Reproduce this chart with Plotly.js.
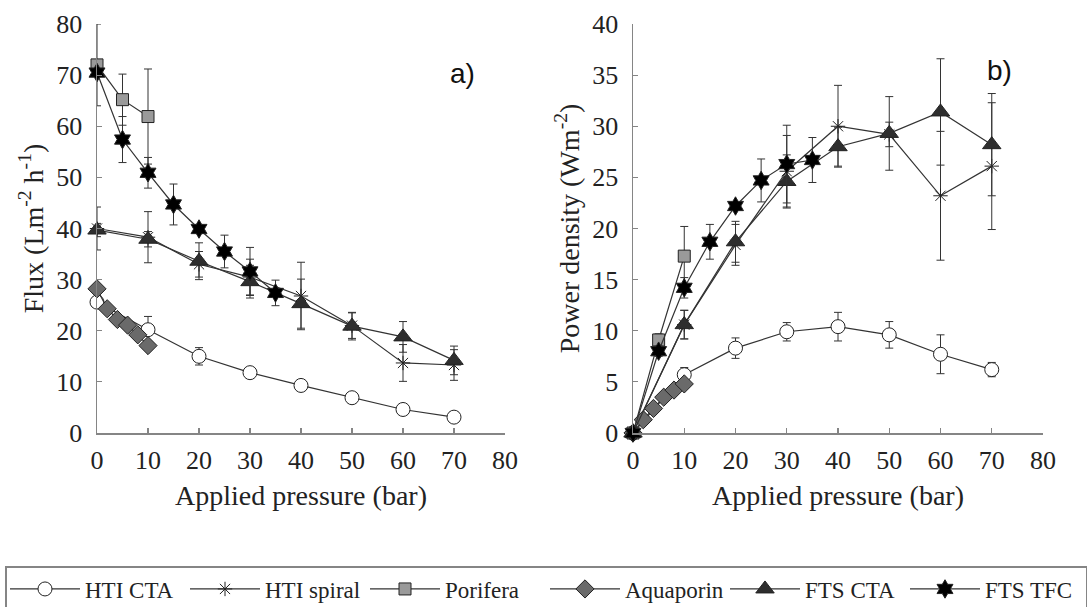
<!DOCTYPE html>
<html>
<head>
<meta charset="utf-8">
<script src="https://cdn.plot.ly/plotly-3.0.1.min.js"></script>
<style>html,body{margin:0;padding:0;background:#fff;}#chart{width:1089px;height:607px;}</style>
</head>
<body>
<div id="chart"></div>
<script>
// ---- Data ----
const seriesNames = ["HTI CTA", "HTI spiral", "Porifera", "Aquaporin", "FTS CTA", "FTS TFC"];

// Pressure values (bar)
const pressure8 = [0, 10, 20, 30, 40, 50, 60, 70];
const pressurePorifera = [0, 5, 10];
const pressureAquaporin = [0, 2, 4, 6, 8, 10];
const pressureTFC = [0, 5, 10, 15, 20, 25, 30, 35];

// a) Flux (L m-2 h-1)
const fluxHtiCta = [25.6, 20.2, 15.0, 11.8, 9.3, 6.9, 4.6, 3.1];
const fluxHtiCtaErr = [0.8, 2.6, 1.7, 0.8, 1.0, 1.0, 0.9, 0.6];
const fluxHtiSpiral = [40.0, 38.3, 33.0, 30.5, 26.8, 21.0, 13.7, 13.3];
const fluxHtiSpiralErr = [4.2, 5.0, 2.5, 3.5, 6.6, 2.5, 3.6, 3.0];
const fluxPorifera = [72.0, 65.2, 61.9];
const fluxPoriferaErr = [8.0, 5.0, 9.3];
const fluxAquaporin = [28.2, 24.3, 22.2, 21.1, 19.2, 17.1];
const fluxFtsCta = [39.7, 37.9, 33.6, 29.6, 25.3, 20.9, 18.8, 14.2];
const fluxFtsCtaErr = [1.3, 1.5, 3.6, 3.2, 4.8, 2.7, 3.0, 2.8];
const fluxFtsTfc = [70.5, 57.4, 50.9, 44.7, 39.9, 35.5, 31.6, 27.4];
const fluxFtsTfcErr = [0.8, 4.5, 3.0, 4.0, 0.8, 3.2, 4.7, 2.5];

// b) Power density (W m-2)
const powHtiCta = [0, 5.7, 8.3, 9.9, 10.4, 9.6, 7.7, 6.2];
const powHtiCtaErr = [0, 0.7, 1.0, 0.9, 1.4, 1.3, 1.9, 0.7];
const powHtiSpiral = [0, 10.6, 18.4, 25.6, 30.0, 29.2, 23.2, 26.1];
const powHtiSpiralErr = [0, 1.4, 2.0, 3.5, 4.0, 1.2, 6.3, 6.2];
const powPorifera = [0, 9.1, 17.3];
const powPoriferaErr = [0, 0.6, 2.9];
const powAquaporin = [0, 1.3, 2.4, 3.5, 4.2, 4.8];
const powFtsCta = [0, 10.6, 18.7, 24.6, 28.0, 29.3, 31.4, 28.2];
const powFtsCtaErr = [0, 1.4, 2.0, 2.6, 1.9, 3.6, 5.2, 5.0];
const powFtsTfc = [0, 8.0, 14.2, 18.7, 22.2, 24.7, 26.3, 26.7];
const powFtsTfcErr = [0, 0.5, 1.0, 1.7, 0.4, 2.1, 3.8, 2.2];

// Tick labels
const xTicks = [0, 10, 20, 30, 40, 50, 60, 70, 80];
const yTicksFlux = [0, 10, 20, 30, 40, 50, 60, 70, 80];
const yTicksPower = [0, 5, 10, 15, 20, 25, 30, 35, 40];

// ---- Styles ----
const LINE = '#333333';
const styles = {
  "HTI CTA":   {symbol: 'circle', size: 14, color: '#ffffff'},
  "HTI spiral":{symbol: 'asterisk-open', size: 12, color: '#222222'},
  "Porifera":  {symbol: 'square', size: 12, color: '#9a9a9a'},
  "Aquaporin": {symbol: 'diamond', size: 14, color: '#6a6a6a'},
  "FTS CTA":   {symbol: 'triangle-up', size: 16, color: '#2e2e2e'},
  "FTS TFC":   {symbol: 'hexagram', size: 14, color: '#000000'}
};

function mk(name, x, y, err, xa, ya, showlegend) {
  const s = styles[name];
  const t = {
    type: 'scatter', mode: 'lines+markers', name: name,
    x: x, y: y, xaxis: xa, yaxis: ya, showlegend: showlegend,
    legendgroup: name, cliponaxis: false,
    line: {color: LINE, width: 1.2},
    marker: {symbol: s.symbol, size: s.size, color: s.color,
             line: {color: '#222222', width: 1}}
  };
  if (err) {
    t.error_y = {type: 'data', array: err, visible: true, color: '#333333', thickness: 1, width: 4};
  }
  return t;
}

const data = [
  mk("HTI CTA", pressure8, fluxHtiCta, fluxHtiCtaErr, 'x', 'y', true),
  mk("HTI spiral", pressure8, fluxHtiSpiral, fluxHtiSpiralErr, 'x', 'y', true),
  mk("Porifera", pressurePorifera, fluxPorifera, fluxPoriferaErr, 'x', 'y', true),
  mk("Aquaporin", pressureAquaporin, fluxAquaporin, null, 'x', 'y', true),
  mk("FTS CTA", pressure8, fluxFtsCta, fluxFtsCtaErr, 'x', 'y', true),
  mk("FTS TFC", pressureTFC, fluxFtsTfc, fluxFtsTfcErr, 'x', 'y', true),
  mk("HTI CTA", pressure8, powHtiCta, powHtiCtaErr, 'x2', 'y2', false),
  mk("HTI spiral", pressure8, powHtiSpiral, powHtiSpiralErr, 'x2', 'y2', false),
  mk("Porifera", pressurePorifera, powPorifera, powPoriferaErr, 'x2', 'y2', false),
  mk("Aquaporin", pressureAquaporin, powAquaporin, null, 'x2', 'y2', false),
  mk("FTS CTA", pressure8, powFtsCta, powFtsCtaErr, 'x2', 'y2', false),
  mk("FTS TFC", pressureTFC, powFtsTfc, powFtsTfcErr, 'x2', 'y2', false)
];

const SERIF = 'Liberation Serif';
const axisBase = {
  showline: true, linecolor: '#858585', linewidth: 1.5,
  ticks: 'inside', ticklen: 5, tickwidth: 1.2, tickcolor: '#858585',
  showgrid: false, zeroline: false, fixedrange: true,
  tickfont: {family: SERIF, size: 26, color: '#222'}
};

const W = 1089, H = 607;
const layout = {
  width: W, height: H,
  margin: {l: 0, r: 0, t: 0, b: 0, autoexpand: false},
  paper_bgcolor: '#fff', plot_bgcolor: 'rgba(0,0,0,0)',
  showlegend: true,
  font: {family: SERIF, color: '#222'},
  xaxis: Object.assign({}, axisBase, {
    domain: [97 / W, 505 / W], range: [0, 80], tickvals: xTicks, anchor: 'y', ticklabelstandoff: 3,
    title: {text: 'Applied pressure (bar)', font: {family: SERIF, size: 28, color: '#222'}, standoff: 11}
  }),
  yaxis: Object.assign({}, axisBase, {
    domain: [(H - 433) / H, (H - 24) / H], range: [0, 80], tickvals: yTicksFlux, anchor: 'x', ticklabelstandoff: 8,
    title: {text: 'Flux (Lm<sup>-2</sup> h<sup>-1</sup>)', font: {family: SERIF, size: 28, color: '#222'}, standoff: 4}
  }),
  xaxis2: Object.assign({}, axisBase, {
    domain: [633 / W, 1043 / W], range: [0, 80], tickvals: xTicks, anchor: 'y2', ticklabelstandoff: 3,
    title: {text: 'Applied pressure (bar)', font: {family: SERIF, size: 28, color: '#222'}, standoff: 11}
  }),
  yaxis2: Object.assign({}, axisBase, {
    domain: [(H - 433) / H, (H - 24) / H], range: [0, 40], tickvals: yTicksPower, anchor: 'x2', ticklabelstandoff: 8,
    title: {text: 'Power density (Wm<sup>-2</sup>)', font: {family: SERIF, size: 28, color: '#222'}, standoff: 4}
  }),
  legend: {
    orientation: 'h', x: 5 / W, xanchor: 'left', y: (H - 566) / H, yanchor: 'top',
    bordercolor: '#858585', borderwidth: 1.5, bgcolor: '#fff',
    font: {family: SERIF, size: 23, color: '#222'},
    itemwidth: 70, entrywidth: 95, entrywidthmode: 'pixels', itemclick: false, itemdoubleclick: false,
    tracegroupgap: 0
  },
  annotations: [
    {text: 'a)', xref: 'paper', yref: 'paper', x: 462 / W, y: (H - 73) / H,
     xanchor: 'center', yanchor: 'middle', showarrow: false,
     font: {family: 'Liberation Sans', size: 28, color: '#111'}},
    {text: 'b)', xref: 'paper', yref: 'paper', x: 999 / W, y: (H - 70) / H,
     xanchor: 'center', yanchor: 'middle', showarrow: false,
     font: {family: 'Liberation Sans', size: 28, color: '#111'}}
  ]
};

Plotly.newPlot('chart', data, layout, {displayModeBar: false, staticPlot: true});
</script>
</body>
</html>
